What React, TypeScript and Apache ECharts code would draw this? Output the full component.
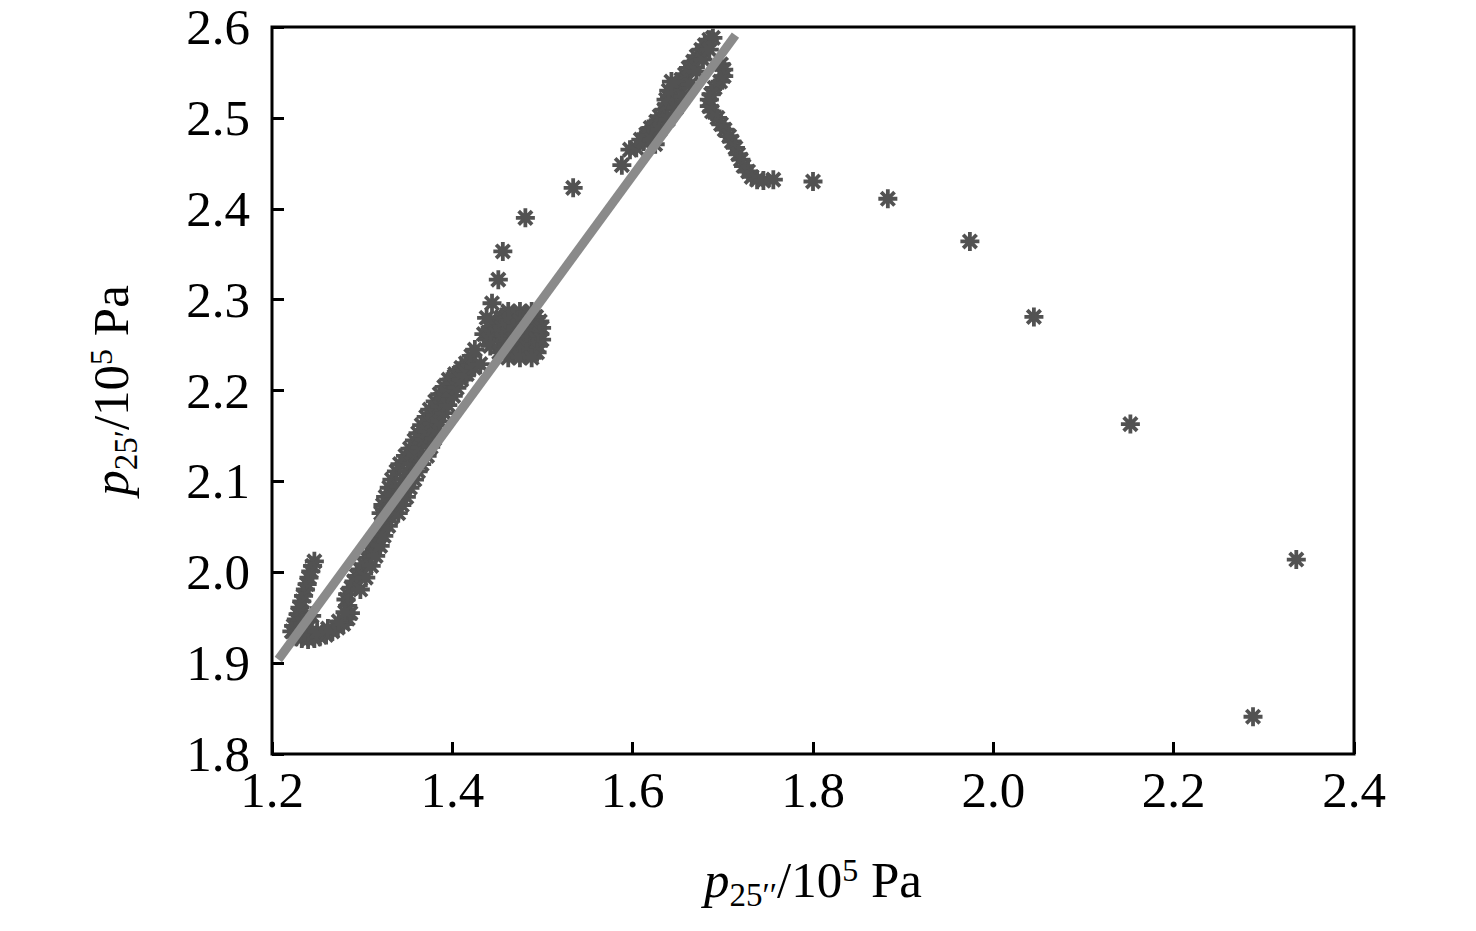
import React, { useEffect, useRef } from "react";
import * as echarts from "echarts";

// ---- data ----
const X_MIN = 1.2, X_MAX = 2.4, X_STEP = 0.2;
const Y_MIN = 1.8, Y_MAX = 2.6, Y_STEP = 0.1;

const lowerArm: [number, number][] = [
  [1.247, 2.012], [1.245, 2.007], [1.243, 2.001], [1.241, 1.994], [1.239, 1.987],
  [1.237, 1.981], [1.235, 1.974], [1.233, 1.968], [1.231, 1.961], [1.229, 1.954],
  [1.227, 1.948], [1.224, 1.941], [1.222, 1.935], [1.234, 1.944], [1.240, 1.939], [1.244, 1.952],
];

const lowerBend: [number, number][] = [
  [1.227, 1.929], [1.233, 1.927], [1.240, 1.926], [1.247, 1.927], [1.253, 1.929],
  [1.260, 1.931], [1.267, 1.935], [1.273, 1.939], [1.279, 1.943], [1.284, 1.949],
  [1.287, 1.955], [1.284, 1.963], [1.282, 1.970], [1.284, 1.976], [1.288, 1.983],
  [1.291, 1.990], [1.294, 1.996], [1.298, 2.003], [1.302, 2.009], [1.305, 2.016],
  [1.309, 2.022], [1.312, 2.029], [1.315, 2.036], [1.319, 2.042], [1.322, 2.049],
  [1.324, 2.056], [1.326, 2.062],
  [1.236, 1.934], [1.250, 1.935], [1.262, 1.938], [1.274, 1.946], [1.281, 1.956],
];

const lowerBandRight: [number, number][] = [
  [1.298, 1.981], [1.304, 1.994], [1.310, 2.007], [1.315, 2.018], [1.320, 2.029],
  [1.324, 2.040], [1.329, 2.051], [1.332, 2.060],
];

const midBandLeft: [number, number][] = [
  [1.321, 2.065], [1.323, 2.074], [1.326, 2.083], [1.330, 2.093], [1.333, 2.102],
  [1.338, 2.111], [1.342, 2.119], [1.348, 2.128], [1.353, 2.136], [1.358, 2.145],
  [1.362, 2.153], [1.366, 2.162], [1.371, 2.171], [1.375, 2.179], [1.381, 2.188],
  [1.386, 2.196], [1.391, 2.204], [1.396, 2.212], [1.403, 2.218], [1.410, 2.225],
  [1.415, 2.230], [1.421, 2.238], [1.425, 2.245],
];

const midBandCore: [number, number][] = [
  [1.330, 2.066], [1.334, 2.075], [1.337, 2.084], [1.341, 2.094], [1.346, 2.103],
  [1.350, 2.111], [1.355, 2.120], [1.360, 2.129], [1.364, 2.137], [1.369, 2.146],
  [1.372, 2.155], [1.377, 2.164], [1.381, 2.173], [1.386, 2.182], [1.391, 2.191],
  [1.396, 2.200], [1.401, 2.208], [1.407, 2.215], [1.414, 2.221], [1.420, 2.228],
];

const midBandRight: [number, number][] = [
  [1.340, 2.065], [1.344, 2.074], [1.349, 2.083], [1.353, 2.093], [1.358, 2.102],
  [1.362, 2.111], [1.366, 2.119], [1.372, 2.128], [1.376, 2.138], [1.380, 2.147],
  [1.383, 2.156], [1.386, 2.166], [1.391, 2.175], [1.395, 2.184], [1.401, 2.194],
  [1.405, 2.203], [1.410, 2.212], [1.416, 2.218], [1.424, 2.225], [1.431, 2.229],
];

const blob: [number, number][] = [
  [1.462, 2.287], [1.475, 2.287], [1.488, 2.287],
  [1.455, 2.281], [1.468, 2.281], [1.482, 2.281], [1.493, 2.281],
  [1.448, 2.276], [1.462, 2.276], [1.475, 2.276], [1.488, 2.276], [1.497, 2.276],
  [1.442, 2.269], [1.455, 2.269], [1.468, 2.269], [1.482, 2.269], [1.493, 2.269], [1.499, 2.269],
  [1.435, 2.262], [1.448, 2.262], [1.462, 2.262], [1.475, 2.262], [1.488, 2.262], [1.497, 2.262],
  [1.440, 2.256], [1.455, 2.256], [1.468, 2.256], [1.482, 2.256], [1.493, 2.256], [1.499, 2.256],
  [1.442, 2.249], [1.455, 2.249], [1.468, 2.249], [1.482, 2.249], [1.495, 2.249],
  [1.452, 2.242], [1.468, 2.242], [1.482, 2.242], [1.494, 2.242],
  [1.462, 2.236], [1.475, 2.236], [1.488, 2.236],
];

const stragglers: [number, number][] = [
  [1.438, 2.280], [1.444, 2.296], [1.451, 2.322], [1.456, 2.353], [1.481, 2.390],
  [1.534, 2.423], [1.588, 2.448], [1.597, 2.465],
];

const upperRise: [number, number][] = [
  [1.604, 2.467], [1.609, 2.476], [1.615, 2.482], [1.620, 2.489], [1.626, 2.496],
  [1.630, 2.502], [1.635, 2.509], [1.638, 2.515], [1.641, 2.522], [1.645, 2.529],
  [1.649, 2.535], [1.654, 2.542], [1.658, 2.548], [1.662, 2.555], [1.667, 2.562],
  [1.671, 2.568], [1.676, 2.575], [1.680, 2.580], [1.685, 2.586], [1.689, 2.588],
  [1.612, 2.474], [1.618, 2.481], [1.625, 2.471], [1.637, 2.520], [1.640, 2.530], [1.643, 2.540],
];

const upperRiseBack: [number, number][] = [
  [1.621, 2.476], [1.630, 2.487], [1.639, 2.498], [1.648, 2.511], [1.656, 2.524],
  [1.664, 2.537], [1.671, 2.551], [1.678, 2.564], [1.685, 2.575],
];

const descent: [number, number][] = [
  [1.698, 2.559], [1.701, 2.553], [1.701, 2.546], [1.697, 2.540], [1.691, 2.533],
  [1.687, 2.526], [1.685, 2.520], [1.685, 2.513], [1.688, 2.507], [1.694, 2.500],
  [1.698, 2.493], [1.702, 2.487], [1.707, 2.480], [1.710, 2.474], [1.714, 2.467],
  [1.717, 2.460], [1.720, 2.454], [1.723, 2.447], [1.728, 2.441], [1.732, 2.435],
  [1.738, 2.432], [1.745, 2.431],
];

const tail: [number, number][] = [
  [1.756, 2.432], [1.800, 2.430], [1.883, 2.411], [1.974, 2.364], [2.045, 2.281],
  [2.152, 2.163], [2.288, 1.841], [2.336, 2.014],
];

const FIT_X = [1.207, 1.714];
const FIT_Y = [1.904, 2.591];

// ---- styling ----
const FONT = "'Liberation Serif', 'Times New Roman', serif";
const STAR =
  "path://M10 -2L10 2L4.83 2L8.49 5.66L5.66 8.49L2 4.83L2 10L-2 10L-2 4.83L-5.66 8.49L-8.49 5.66L-4.83 2L-10 2L-10 -2L-4.83 -2L-8.49 -5.66L-5.66 -8.49L-2 -4.83L-2 -10L2 -10L2 -4.83L5.66 -8.49L8.49 -5.66L4.83 -2Z";

const rich = {
  p: { fontFamily: FONT, fontSize: 51, fontStyle: "italic" as const, color: "#000", verticalAlign: "top" as const },
  sub: { fontFamily: FONT, fontSize: 33, color: "#000", verticalAlign: "top" as const, padding: [24, 0, 0, 0] },
  n: { fontFamily: FONT, fontSize: 51, color: "#000", verticalAlign: "top" as const },
  sup: { fontFamily: FONT, fontSize: 32, color: "#000", verticalAlign: "top" as const },
};

export default function App() {
  const ref = useRef<HTMLDivElement>(null);

  useEffect(() => {
    document.body.style.margin = "0";
    if (!ref.current) return;
    const chart = echarts.init(ref.current, undefined, { renderer: "svg" });
    const points = [
      ...lowerArm, ...lowerBend, ...lowerBandRight, ...midBandLeft, ...midBandCore,
      ...midBandRight, ...blob, ...stragglers, ...upperRise, ...upperRiseBack,
      ...descent, ...tail,
    ];
    chart.setOption({
      animation: false,
      backgroundColor: "#fff",
      grid: {
        left: 272, right: 122, top: 27, bottom: 177,
        show: true, borderColor: "#000", borderWidth: 3, backgroundColor: "transparent",
      },
      xAxis: {
        type: "value", min: X_MIN, max: X_MAX, interval: X_STEP,
        axisLine: { show: false },
        axisTick: { show: true, inside: true, length: 12, lineStyle: { color: "#000", width: 3 } },
        splitLine: { show: false },
        axisLabel: {
          fontFamily: FONT, fontSize: 51, color: "#000", margin: 10,
          formatter: (v: number) => v.toFixed(1),
        },
        name: "{p|p}{sub|25′′}{n|/10}{sup|5}{n| Pa}",
        nameLocation: "middle", nameGap: 100,
        nameTextStyle: { fontFamily: FONT, fontSize: 51, color: "#000", rich },
      },
      yAxis: {
        type: "value", min: Y_MIN, max: Y_MAX, interval: Y_STEP,
        axisLine: { show: false },
        axisTick: { show: true, inside: true, length: 12, lineStyle: { color: "#000", width: 3 } },
        splitLine: { show: false },
        axisLabel: {
          fontFamily: FONT, fontSize: 51, color: "#000", margin: 22,
          formatter: (v: number) => v.toFixed(1),
        },
        name: "{p|p}{sub|25′}{n|/10}{sup|5}{n| Pa}",
        nameLocation: "middle", nameGap: 130, nameRotate: 90,
        nameTextStyle: { fontFamily: FONT, fontSize: 51, color: "#000", rich },
      },
      series: [
        {
          type: "scatter",
          data: points,
          symbol: STAR,
          symbolSize: 19,
          itemStyle: { color: "#525252", opacity: 1 },
          z: 2,
        },
        {
          type: "line",
          data: FIT_X.map((x, i) => [x, FIT_Y[i]]),
          symbol: "none",
          lineStyle: { color: "#8a8a8a", width: 9 },
          z: 3,
        },
      ],
    });
    return () => chart.dispose();
  }, []);

  return <div ref={ref} style={{ width: 1476, height: 931 }} />;
}
